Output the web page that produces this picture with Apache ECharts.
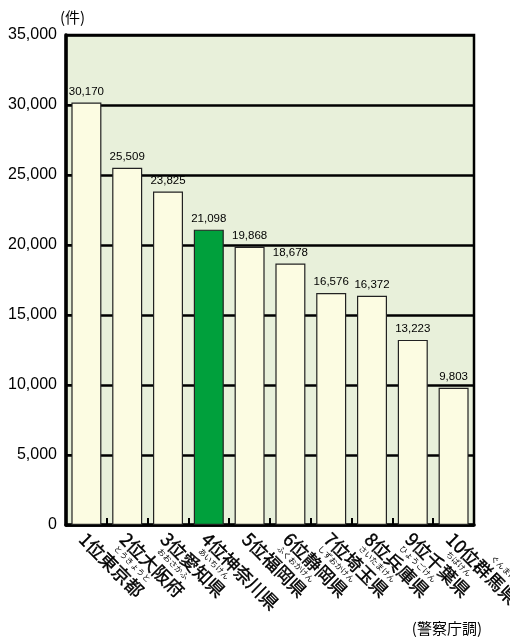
<!DOCTYPE html>
<html><head><meta charset="utf-8">
<script src="https://cdn.jsdelivr.net/npm/echarts@6/dist/echarts.min.js"></script>
<style>html,body{margin:0;padding:0;background:#fff}#c{width:510px;height:637px}</style>
</head><body><div id="c"></div>
<script>
const ranks = ['1位','2位','3位','4位','5位','6位','7位','8位','9位','10位'];
const prefectures = ['東京都','大阪府','愛知県','神奈川県','福岡県','静岡県','埼玉県','兵庫県','千葉県','群馬県'];
const readings = ['とうきょうと','おおさかふ','あいちけん','','ふくおかけん','しずおかけん','さいたまけん','ひょうごけん','ちばけん','ぐんまけん'];
const values = [30170,25509,23825,21098,19868,18678,16576,16372,13223,9803];
const highlightIndex = 3;
const yTicks = [0,5000,10000,15000,20000,25000,30000,35000];
const unitLabel = '(件)';
const sourceLabel = '(警察庁調)';

const FONT = '"Noto Sans CJK JP", sans-serif';
const FS = 18, FFS = 8, FW = 'normal';
const cv = document.createElement('canvas').getContext('2d');
function tw(t, size, weight){ cv.font = (weight||'normal') + ' ' + size + 'px "Noto Sans CJK JP"'; return cv.measureText(t).width; }

const categories = ranks.map((r,i)=>r+prefectures[i]);
const rich = { m: { fontSize: FS, fontWeight: FW, fontFamily: FONT, color: '#000', lineHeight: 20, textBorderColor: '#000', textBorderWidth: 0.4 } };
ranks.forEach((r,i)=>{
  const p = tw(r, FS, FW) + (tw(prefectures[i], FS, FW) - tw(readings[i], FFS))/2;
  rich['f'+i] = { fontSize: FFS, fontFamily: FONT, color: '#000', lineHeight: 11, padding: [0,0,0,Math.max(0,p)] };
});

const fmt = v => v.toString().replace(/\B(?=(\d{3})+(?!\d))/g, ',');

const chart = echarts.init(document.getElementById('c'));
chart.setOption({
  animation: false,
  grid: { left: 66, right: 36, top: 35, bottom: 112, containLabel: false, outerBoundsMode: 'none', show: true, backgroundColor: '#E8F0DA', borderColor: '#000', borderWidth: 2.5 },
  xAxis: {
    type: 'category', data: categories,
    axisLine: { lineStyle: { color: '#000', width: 3.5 } },
    axisTick: { show: true, inside: true, length: 7, interval: 0, lineStyle: { color: '#000', width: 2 } },
    axisLabel: {
      interval: 0, rotate: -45, margin: 7, hideOverlap: false,
      formatter: (v, i) => '{f' + i + '|' + (readings[i] || ' ') + '}\n{m|' + v + '}',
      rich: rich
    }
  },
  yAxis: {
    type: 'value', min: yTicks[0], max: yTicks[yTicks.length-1], interval: 5000,
    name: unitLabel, nameLocation: 'end', nameGap: 10,
    nameTextStyle: { fontSize: 15, fontFamily: FONT, color: '#000', align: 'left', padding: [0,0,0,-6] },
    axisLine: { show: true, lineStyle: { color: '#000', width: 3.5 } },
    axisTick: { show: true, inside: true, length: 6, lineStyle: { color: '#000', width: 2 } },
    axisLabel: { fontSize: 16, fontFamily: 'Liberation Sans, Arial, sans-serif', color: '#000', margin: 9, formatter: v => fmt(v) },
    splitLine: { show: true, lineStyle: { color: '#000', width: 2.5 } }
  },
  series: [{
    type: 'bar', barWidth: 30,
    data: values.map((v,i)=>({ value: v, itemStyle: { color: i===highlightIndex ? '#00A03C' : '#FCFCE2' } })),
    itemStyle: { borderColor: '#222', borderWidth: 1.2 },
    label: { show: true, position: 'top', distance: 5, fontSize: 11.5, fontFamily: 'Liberation Sans, Arial, sans-serif', color: '#000', formatter: p => fmt(p.value) }
  }],
  graphic: [{ type: 'text', right: 28, top: 621, style: { text: sourceLabel, fontSize: 15, fontFamily: FONT, fill: '#000' } }]
});
</script></body></html>
